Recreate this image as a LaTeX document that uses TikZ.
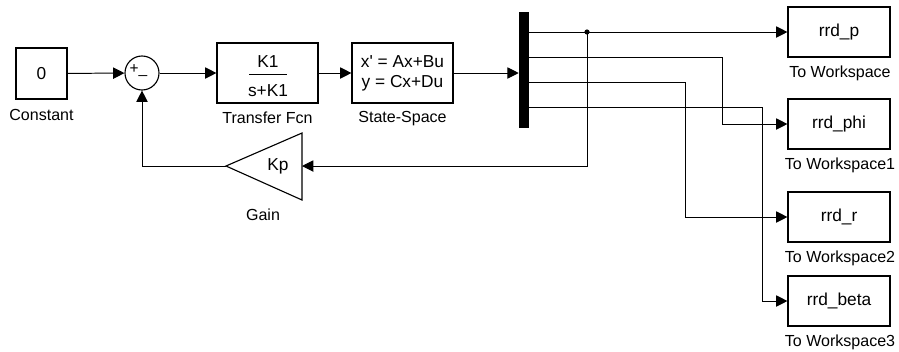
\documentclass[tikz,border=0pt]{standalone}
\usepackage{fontspec}
\setmainfont{Liberation Sans}
\usetikzlibrary{arrows.meta,positioning,calc}
\tikzset{
    blockbox/.style  = {rectangle, draw, line width=0.8pt, align=center,
                        font=\fontsize{12.3}{14.2}\selectfont},
    constbox/.style  = {blockbox, minimum width=1.275cm, minimum height=1.275cm},
    sysbox/.style    = {blockbox, minimum width=2.525cm, minimum height=1.5cm},
    wsbox/.style     = {blockbox, minimum width=2.55cm, minimum height=1.25cm},
    sumnode/.style   = {circle, draw, line width=0.8pt, minimum size=0.85cm, inner sep=0pt},
    muxbar/.style    = {rectangle, fill=black, inner sep=0pt,
                        minimum width=0.25cm, minimum height=2.9cm},
    blocklabel/.style = {anchor=base, font=\fontsize{11.4}{13}\selectfont},
    sig/.style       = {-{Triangle[length=8pt,width=8pt]}, line width=0.7pt},
    wire/.style      = {line width=0.7pt}
}
\begin{document}
\begin{tikzpicture}[x=0.025cm, y=-0.025cm]
\useasboundingbox (0,0) rectangle (899,351);
% forward path
\node[constbox] (const) at (41.5,73.5) {0};
\node[sumnode]  (sum)   at (142,73) {};
\node[font=\fontsize{11}{12}\selectfont] (sumsign) at (138.5,71) {+\_};
\node[sysbox]   (tf)    at (267.5,73) {};
\node[font=\fontsize{12.3}{14.2}\selectfont] (tfnum) at (268,62) {K1};
\node[font=\fontsize{12.3}{14.2}\selectfont] (tfden) at (268,91) {s+K1};
\draw[line width=0.9pt] (249,74.5) -- (287,74.5);
\node[sysbox]   (ss)    at (402.5,73) {x\textquotesingle{} = Ax+Bu\\ y = Cx+Du};
\node[muxbar]   (mux)   at (524,70) {};
% feedback gain
\coordinate (gaintip)  at (226,166);
\coordinate (gainbase) at (302,166);
\draw[line width=0.8pt] (302,133) -- (302,200) -- (gaintip) -- cycle;
\node[font=\fontsize{12.3}{14.2}\selectfont] (gain) at (278,166) {Kp};
% sinks
\node[wsbox] (wsp)    at (839,32)  {rrd\_p};
\node[wsbox] (wsphi)  at (839,124) {rrd\_phi};
\node[wsbox] (wsr)    at (839,217) {rrd\_r};
\node[wsbox] (wsbeta) at (839,301) {rrd\_beta};
% labels
\node[blocklabel] (lconst) at (41.5,120)  {Constant};
\node[blocklabel] (ltf)    at (267.5,123) {Transfer Fcn};
\node[blocklabel] (lss)    at (402.5,122) {State-Space};
\node[blocklabel] (lgain)  at (263,220)   {Gain};
\node[blocklabel] (lwsp)    at (840,77)  {To Workspace};
\node[blocklabel] (lwsphi)  at (840,169) {To Workspace1};
\node[blocklabel] (lwsr)    at (840,262) {To Workspace2};
\node[blocklabel] (lwsbeta) at (840,346) {To Workspace3};
% mux outputs and routing
\coordinate (o1) at (529,32);
\coordinate (o2) at (529,57);
\coordinate (o3) at (529,82);
\coordinate (o4) at (529,107);
\coordinate (br) at (587,32);
\coordinate (c2) at (722,0);
\coordinate (c3) at (685,0);
\coordinate (c4) at (762,0);
\draw[sig] (const) -- (sum);
\draw[sig] (sum) -- (tf);
\draw[sig] (tf) -- (ss);
\draw[sig] (ss.east) -- (ss.east -| mux.west);
\draw[sig] (o1) -- (wsp.west);
\draw[sig] (o2) -| (c2 |- wsphi.west) -- (wsphi.west);
\draw[sig] (o3) -| (c3 |- wsr.west) -- (wsr.west);
\draw[sig] (o4) -| (c4 |- wsbeta.west) -- (wsbeta.west);
\fill (br) circle (2.6);
\draw[sig] (br) |- (gainbase);
\draw[sig] (gaintip) -| (sum.south);
\end{tikzpicture}
\end{document}
